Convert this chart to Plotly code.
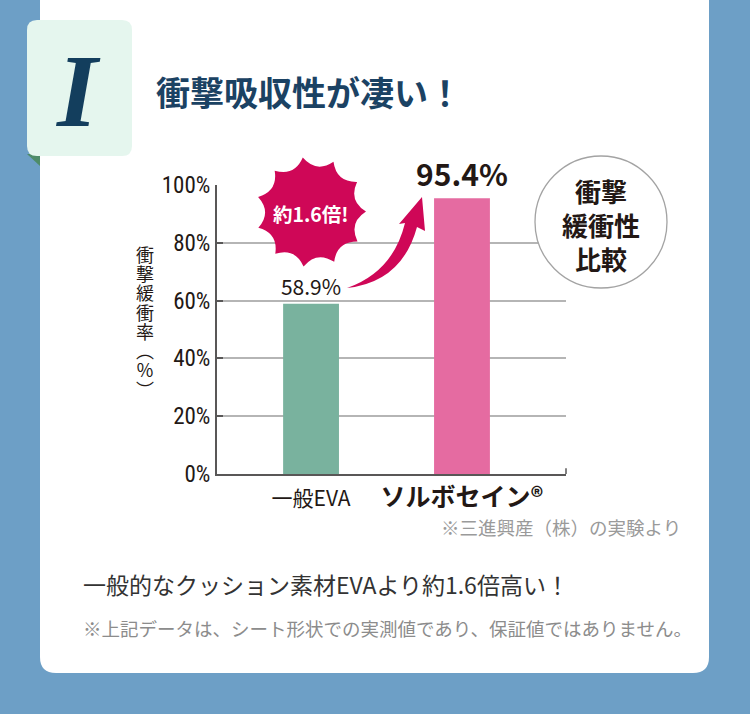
import numpy as np
import plotly.graph_objects as go

# data
categories = ["一般EVA", "ソルボセイン®"]
values = [58.9, 95.4]
bar_colors = ["#79b29e", "#e56ba1"]
y_ticks = [0, 20, 40, 60, 80, 100]
y_title_chars = list("衝撃緩衝率︵％︶")

W, H = 750, 714
JP = "Noto Sans CJK JP"
NARROW = "Roboto Condensed, Roboto, Noto Sans CJK JP"


def px(x):
    return x / W


def py(y):
    return 1 - y / H


def rounded_rect(x0, y0, x1, y1, r):
    pts = [
        f"M {px(x0 + r)} {py(y0)}",
        f"L {px(x1 - r)} {py(y0)}",
        f"Q {px(x1)} {py(y0)} {px(x1)} {py(y0 + r)}",
        f"L {px(x1)} {py(y1 - r)}",
        f"Q {px(x1)} {py(y1)} {px(x1 - r)} {py(y1)}",
        f"L {px(x0 + r)} {py(y1)}",
        f"Q {px(x0)} {py(y1)} {px(x0)} {py(y1 - r)}",
        f"L {px(x0)} {py(y0 + r)}",
        f"Q {px(x0)} {py(y0)} {px(x0 + r)} {py(y0)}",
        "Z",
    ]
    return " ".join(pts)


def burst(cx, cy, r_tip, r_ctrl, n):
    # pointed tips joined by concave edges
    a = np.linspace(0, 2 * np.pi, n + 1) - np.pi / 2 - 0.15
    d = f"M {px(cx + r_tip * np.cos(a[0]))} {py(cy + r_tip * np.sin(a[0]))}"
    for i in range(n):
        m = (a[i] + a[i + 1]) / 2
        d += (f" Q {px(cx + r_ctrl * np.cos(m))} {py(cy + r_ctrl * np.sin(m))}"
              f" {px(cx + r_tip * np.cos(a[i + 1]))} {py(cy + r_tip * np.sin(a[i + 1]))}")
    return d + " Z"


fig = go.Figure()

fig.add_trace(go.Bar(
    x=categories,
    y=values,
    marker=dict(color=bar_colors, line=dict(width=0)),
    width=0.37,
    text=[f"{values[0]}%", f"<b>{values[1]}%</b>"],
    textposition="outside",
    constraintext="none",
    textfont=dict(family=JP, size=[21, 30], color="#231815"),
    cliponaxis=False,
    hoverinfo="skip",
))

shapes = [
    # white card
    dict(type="path", path=rounded_rect(40, -20, 709, 673, 16),
         fillcolor="white", line=dict(width=0), layer="below"),
    # badge fold
    dict(type="path",
         path=f"M {px(27)} {py(154)} L {px(40)} {py(154)} L {px(40)} {py(166)} Z",
         fillcolor="#4e8c69", line=dict(width=0), layer="below"),
    # badge
    dict(type="path", path=rounded_rect(27, 20, 132, 156, 10),
         fillcolor="#e5f6ee", line=dict(width=0), layer="below"),
    # comparison circle
    dict(type="circle", x0=px(535), x1=px(667), y0=py(288), y1=py(156),
         fillcolor="white", line=dict(color="#a3a3a3", width=1.3)),
    # starburst
    dict(type="path", path=burst(311, 212, 55, 39, 11),
         fillcolor="#cf0757", line=dict(width=0)),
    # curved arrow
    dict(type="path",
         path=(f"M {px(347)} {py(288)} Q {px(393)} {py(272)} {px(405)} {py(223)}"
               f" L {px(399)} {py(224)} L {px(422)} {py(197)} L {px(425)} {py(231)}"
               f" L {px(417)} {py(227)} Q {px(402)} {py(282)} {px(347)} {py(288)} Z"),
         fillcolor="#cf0757", line=dict(width=0)),
    # tick at right end of x axis
    dict(type="line", xref="x domain", yref="y domain", x0=1, x1=1, y0=0, y1=0.02,
         line=dict(color="#595757", width=1.5)),
]

annotations = [
    dict(x=px(78), y=py(90), text="<i><b>I</b></i>",
         font=dict(family="Liberation Serif, DejaVu Serif", size=104, color="#133e5d")),
    dict(x=px(154), y=py(92), text="<b>衝撃吸収性が凄い！</b>", xanchor="left",
         font=dict(family=JP, size=34, color="#1b4263")),
    dict(x=px(311), y=py(213), text="<b>約1.6倍!</b>",
         font=dict(family=JP, size=19.5, color="white")),
    dict(x=px(601), y=py(224), text="<b>衝撃<br>緩衝性<br>比較</b>",
         font=dict(family=JP, size=26, color="#231815")),
    dict(x=px(683), y=py(527), text="※三進興産（株）の実験より", xanchor="right",
         font=dict(family=JP, size=18.5, color="#9a9a9a")),
    dict(x=px(81), y=py(584), text="一般的なクッション素材EVAより約1.6倍高い！", xanchor="left",
         font=dict(family=JP, size=23, color="#333333")),
    dict(x=px(81), y=py(628), text="※上記データは、シート形状での実測値であり、保証値ではありません。",
         xanchor="left", font=dict(family=JP, size=18.5, color="#8c8c8c")),
    # vertical axis title, upright characters stacked
    dict(x=px(145), y=py(322),
         text="<br>".join(f"<span style='font-size:18px'>{c}</span>" for c in y_title_chars),
         font=dict(family=JP, size=14.8, color="#231815")),
]

for a in annotations:
    a.setdefault("xref", "paper")
    a.setdefault("yref", "paper")
    a.setdefault("xanchor", "center")
    a.setdefault("yanchor", "middle")
    a.setdefault("showarrow", False)
for s in shapes:
    s.setdefault("xref", "paper")
    s.setdefault("yref", "paper")

fig.update_layout(
    width=W,
    height=H,
    margin=dict(l=0, r=0, t=0, b=0, autoexpand=False),
    paper_bgcolor="#6d9fc6",
    plot_bgcolor="white",
    showlegend=False,
    shapes=shapes,
    annotations=annotations,
    xaxis=dict(
        domain=[px(217), px(566)],
        type="category",
        range=[-0.623, 1.689],
        tickvals=categories,
        ticktext=[f"<span style='font-size:21px'>{categories[0]}</span>",
                  f"<b>{categories[1]}</b>"],
        tickfont=dict(family=JP, size=25, color="#231815"),
        showline=True, linecolor="#595757", linewidth=2,
        showgrid=False, ticks="", automargin=False,
    ),
    yaxis=dict(
        domain=[py(474), py(185)],
        range=[0, 100],
        tickvals=y_ticks,
        ticktext=[f"{t}%" for t in y_ticks],
        tickfont=dict(family=NARROW, size=23, color="#231815"),
        showline=True, linecolor="#595757", linewidth=2,
        showgrid=True, gridcolor="#b5b5b5", gridwidth=1.5,
        ticks="inside", ticklen=6, tickcolor="#595757", tickwidth=1.5,
        zeroline=False, automargin=False,
    ),
)

fig.write_html("out.html", config={"displayModeBar": False},
               post_script="document.body.style.margin='0';")
